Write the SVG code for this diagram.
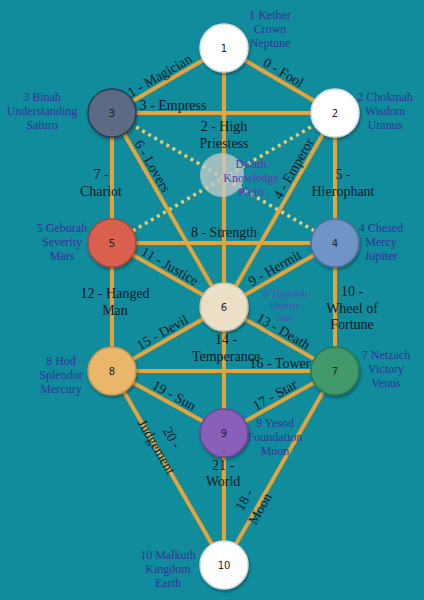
<svg xmlns="http://www.w3.org/2000/svg" width="424" height="600" viewBox="0 0 424 600">
<defs>
<style>
.path{stroke:#e4a43c;stroke-width:4;fill:none}
.dot{stroke:#ebcb72;stroke-width:3.5;stroke-dasharray:3 4;fill:none}
.node{stroke-width:1.5}
.num{font-family:"DejaVu Sans",sans-serif;font-size:10px;fill:#222;text-anchor:middle}
.nl{font-family:"Liberation Serif",serif;font-size:12px;fill:#33339a;text-anchor:middle}
.cl{font-family:"Liberation Serif",serif;font-size:14px;fill:#0a1826;text-anchor:middle}
</style>
<filter id="sh" x="-30%" y="-30%" width="160%" height="160%">
<feDropShadow dx="1" dy="2" stdDeviation="1.5" flood-color="#000" flood-opacity="0.35"/>
</filter>
</defs>
<rect x="0" y="0" width="424" height="600" fill="#108c9c"/>
<g id="connectors">
<line class="dot" x1="112" y1="113" x2="335" y2="243"/>
<line class="dot" x1="335" y1="113" x2="112" y2="243"/>
<line class="path" x1="224" y1="48" x2="335" y2="113"/>
<line class="path" x1="224" y1="48" x2="112" y2="113"/>
<line class="path" x1="224" y1="48" x2="224" y2="565"/>
<line class="path" x1="112" y1="113" x2="335" y2="113"/>
<line class="path" x1="335" y1="113" x2="224" y2="307"/>
<line class="path" x1="335" y1="113" x2="335" y2="371"/>
<line class="path" x1="112" y1="113" x2="224" y2="307"/>
<line class="path" x1="112" y1="113" x2="112" y2="371"/>
<line class="path" x1="112" y1="243" x2="335" y2="243"/>
<line class="path" x1="335" y1="243" x2="224" y2="307"/>
<line class="path" x1="112" y1="243" x2="224" y2="307"/>
<line class="path" x1="224" y1="307" x2="335" y2="371"/>
<line class="path" x1="112" y1="371" x2="224" y2="307"/>
<line class="path" x1="112" y1="371" x2="335" y2="371"/>
<line class="path" x1="335" y1="371" x2="224" y2="433"/>
<line class="path" x1="335" y1="371" x2="224" y2="565"/>
<line class="path" x1="112" y1="371" x2="224" y2="433"/>
<line class="path" x1="112" y1="371" x2="224" y2="565"/>
</g>
<g id="connector-labels">
<text class="cl" transform="translate(279,80) rotate(30.35)" y="-4">0 - Fool</text>
<text class="cl" transform="translate(164,83) rotate(-30.1)" y="-4">1 - Magician</text>
<text class="cl" x="224" y="131">2 - High</text>
<text class="cl" x="224" y="148">Priestess</text>
<text class="cl" x="173" y="110">3 - Empress</text>
<text class="cl" transform="translate(301,173) rotate(-60.2)" y="-4">4 - Emperor</text>
<text class="cl" x="343" y="179">5 -</text>
<text class="cl" x="343" y="196">Hierophant</text>
<text class="cl" transform="translate(145,170.5) rotate(60)" y="-4">6 - Lovers</text>
<text class="cl" x="101" y="179">7 -</text>
<text class="cl" x="101" y="196">Chariot</text>
<text class="cl" x="224" y="237">8 - Strength</text>
<text class="cl" transform="translate(279,275.5) rotate(-30)" y="-4">9 - Hermit</text>
<text class="cl" x="352" y="296">10 -</text>
<text class="cl" x="352" y="312.5">Wheel of</text>
<text class="cl" x="352" y="329">Fortune</text>
<text class="cl" transform="translate(165.5,273.6) rotate(29.74)" y="-4">11 - Justice</text>
<text class="cl" x="115" y="298">12 - Hanged</text>
<text class="cl" x="115" y="315">Man</text>
<text class="cl" transform="translate(279,338.7) rotate(30)" y="-4">13 - Death</text>
<text class="cl" x="226" y="344">14 -</text>
<text class="cl" x="226" y="361">Temperance</text>
<text class="cl" transform="translate(166.5,339.9) rotate(-29.74)" y="-4">15 - Devil</text>
<text class="cl" x="280" y="368">16 - Tower</text>
<text class="cl" transform="translate(279,402.5) rotate(-29.2)" y="-4">17 - Star</text>
<text class="cl" transform="translate(257,507) rotate(-60.2)"><tspan x="0" y="-10">18 -</tspan><tspan x="0" y="8">Moon</tspan></text>
<text class="cl" transform="translate(170,403) rotate(29)" y="-4">19 - Sun</text>
<text class="cl" transform="translate(156,447) rotate(60)"><tspan x="0" y="-14">20 -</tspan><tspan x="0" y="4">Judgement</tspan></text>
<text class="cl" x="223" y="470">21 -</text>
<text class="cl" x="223" y="486">World</text>
</g>
<g id="daath">
<circle cx="222" cy="175" r="22" fill="#c4c9c8" fill-opacity="0.78"/>
<text class="nl" style="fill:#5a3cb0" x="251" y="168">Da'ath<tspan x="251" dy="14">Knowledge</tspan><tspan x="251" dy="14">Pluto</tspan></text>
</g>
<g id="node1">
<circle class="node" cx="224" cy="48" r="24" fill="#ffffff" stroke="#d8d8d8" filter="url(#sh)"/>
<text class="num" x="224" y="52">1</text>
<text class="nl" x="270" y="19">1 Kether<tspan x="270" dy="14">Crown</tspan><tspan x="270" dy="14">Neptune</tspan></text>
</g>
<g id="node2">
<circle class="node" cx="335" cy="113" r="24" fill="#ffffff" stroke="#d8d8d8" filter="url(#sh)"/>
<text class="num" x="335" y="117">2</text>
<text class="nl" x="385" y="101">2 Chokmah<tspan x="385" dy="14">Wisdom</tspan><tspan x="385" dy="14">Uranus</tspan></text>
</g>
<g id="node3">
<circle class="node" cx="112" cy="113" r="24" fill="#5d6a84" stroke="#2c3a52" filter="url(#sh)"/>
<text class="num" x="112" y="117">3</text>
<text class="nl" x="42" y="101">3 Binah<tspan x="42" dy="14">Understanding</tspan><tspan x="42" dy="14">Saturn</tspan></text>
</g>
<g id="node4">
<circle class="node" cx="335" cy="243" r="24" fill="#6f94c6" stroke="#4d6f9c" filter="url(#sh)"/>
<text class="num" x="335" y="247">4</text>
<text class="nl" x="381" y="232">4 Chesed<tspan x="381" dy="14">Mercy</tspan><tspan x="381" dy="14">Jupiter</tspan></text>
</g>
<g id="node5">
<circle class="node" cx="112" cy="243" r="24" fill="#d9604d" stroke="#a9473b" filter="url(#sh)"/>
<text class="num" x="112" y="247">5</text>
<text class="nl" x="62" y="232">5 Geburah<tspan x="62" dy="14">Severity</tspan><tspan x="62" dy="14">Mars</tspan></text>
</g>
<g id="node6">
<circle class="node" cx="224" cy="307" r="24" fill="#ebdfc6" stroke="#c8bba0" filter="url(#sh)"/>
<text class="num" x="224" y="311">6</text>
<text class="nl" style="font-size:11px;fill:#4456b2" x="285" y="297">6 Tipareth<tspan x="285" dy="12">Beauty</tspan><tspan x="285" dy="12">Sun</tspan></text>
</g>
<g id="node7">
<circle class="node" cx="335" cy="371" r="24" fill="#3f9a6c" stroke="#2d7752" filter="url(#sh)"/>
<text class="num" x="335" y="375">7</text>
<text class="nl" x="386" y="359">7 Netzach<tspan x="386" dy="14">Victory</tspan><tspan x="386" dy="14">Venus</tspan></text>
</g>
<g id="node8">
<circle class="node" cx="112" cy="371" r="24" fill="#e9b66b" stroke="#c39250" filter="url(#sh)"/>
<text class="num" x="112" y="375">8</text>
<text class="nl" x="61" y="365">8 Hod<tspan x="61" dy="14">Splendor</tspan><tspan x="61" dy="14">Mercury</tspan></text>
</g>
<g id="node9">
<circle class="node" cx="224" cy="433" r="24" fill="#8a5fba" stroke="#6a4696" filter="url(#sh)"/>
<text class="num" x="224" y="437">9</text>
<text class="nl" x="275" y="427">9 Yesod<tspan x="275" dy="14">Foundation</tspan><tspan x="275" dy="14">Moon</tspan></text>
</g>
<g id="node10">
<circle class="node" cx="224" cy="565" r="24" fill="#ffffff" stroke="#d8d8d8" filter="url(#sh)"/>
<text class="num" x="224" y="569">10</text>
<text class="nl" x="168" y="559">10 Malkuth<tspan x="168" dy="14">Kingdom</tspan><tspan x="168" dy="14">Earth</tspan></text>
</g>
</svg>
